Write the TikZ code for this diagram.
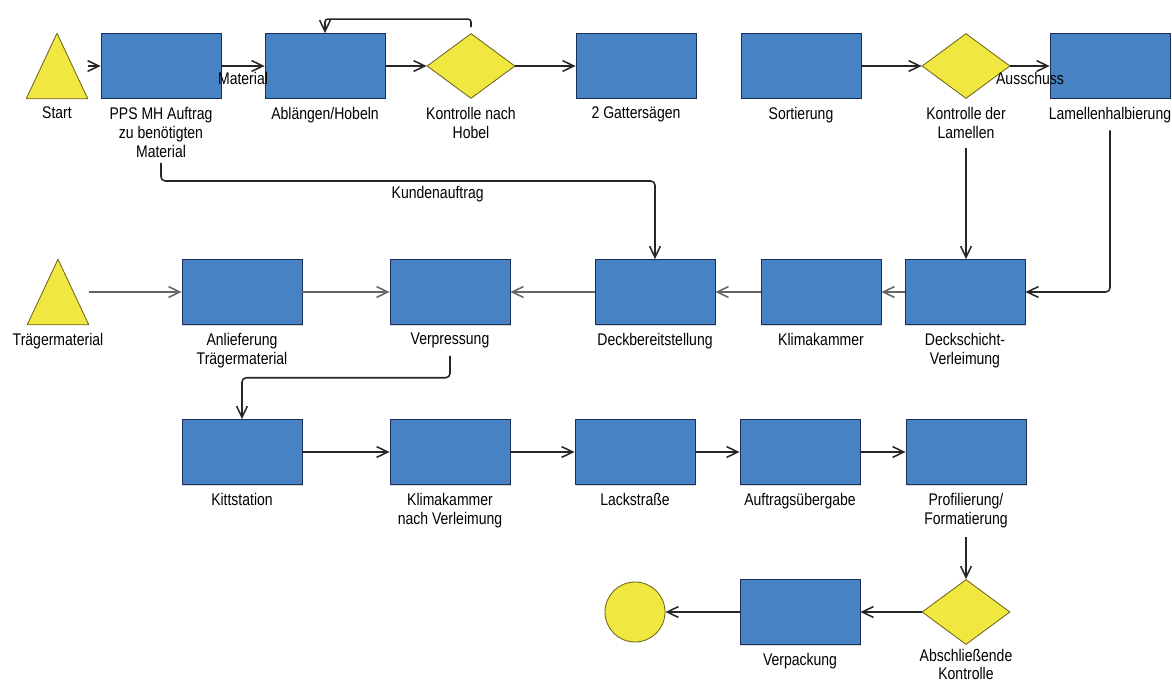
\documentclass[tikz,border=0pt]{standalone}
\usepackage{fontspec}
\setmainfont{Liberation Sans}[FakeStretch=0.83]
\usetikzlibrary{
  shapes.geometric
  , calc
  , arrows.meta
  , shadows
}
\definecolor{boxblue}{RGB}{70,130,196}
\definecolor{boxline}{RGB}{25,45,85}
\definecolor{evyellow}{RGB}{240,232,64}
\definecolor{evline}{RGB}{110,100,30}
\tikzset{
  procbox/.style={rectangle, draw=boxline, line width=0.6pt, fill=boxblue,
    minimum width=3cm, minimum height=1.625cm, inner sep=0pt,
    drop shadow={shadow xshift=0.7pt, shadow yshift=-0.7pt, fill=black!30}},
  decision/.style={diamond, draw=evline, line width=0.6pt, fill=evyellow,
    minimum width=2.2cm, minimum height=1.625cm, inner sep=0pt},
  % frame of a triangle event, the triangle is drawn inside it
  startevent/.style={rectangle, minimum width=1.525cm, minimum height=1.625cm, inner sep=0pt},
  triangle/.style={draw=evline, line width=0.6pt, fill=evyellow, line join=round},
  endevent/.style={circle, draw=evline, line width=0.6pt, fill=evyellow,
    minimum size=1.5cm, inner sep=0pt},
  every label/.style={align=center, font=\fontsize{12}{13.5}\selectfont, inner sep=1pt},
  flowtext/.style={font=\fontsize{12}{13.5}\selectfont, inner sep=1pt},
  arr/.style={-{Straight Barb[length=2.8mm, width=2.7mm]}, line width=1.1pt, draw=black!85}
}
\begin{document}
\begin{tikzpicture}[x=0.025cm, y=-0.025cm, label distance=4.5pt]
  \useasboundingbox (0,0) rectangle (1172,686);

  % first row
  \node [startevent, label={[name=startLbl]below:Start}] (start) at (57,66) {};
  \draw [triangle] (start.north) -- (start.south east) -- (start.south west) -- cycle;
  \node [procbox, label={[name=ppsLbl]below:{PPS MH Auftrag\\zu benötigten\\Material}}] (pps) at (161,66) {};
  \node [procbox, label={[name=ablLbl]below:Ablängen/Hobeln}] (ablaengen) at (325,66) {};
  \node [decision, label={[name=khLbl]below:{Kontrolle nach\\Hobel}}] (kontrHobel) at (471,66) {};
  \node [procbox, label={[name=gatLbl]below:2 Gattersägen}] (gatter) at (636,66) {};
  \node [procbox, label={[name=sortLbl]below:Sortierung}] (sortierung) at (801,66) {};
  \node [decision, label={[name=klLbl]below:{Kontrolle der\\Lamellen}}] (kontrLam) at (966,66) {};
  \node [procbox, label={[name=halbLbl]below:Lamellenhalbierung}] (halbierung) at (1110,66) {};

  % second row
  \node [startevent, label={[name=traegerLbl]below:Trägermaterial}] (traeger) at (58,292) {};
  \draw [triangle] (traeger.north) -- (traeger.south east) -- (traeger.south west) -- cycle;
  \node [procbox, label={[name=anlLbl]below:{Anlieferung\\Trägermaterial}}] (anlieferung) at (242,292) {};
  \node [procbox, label={[name=verpLbl]below:Verpressung}] (verpressung) at (450,292) {};
  \node [procbox, label={[name=dbLbl]below:Deckbereitstellung}] (deckbereit) at (655,292) {};
  \node [procbox, label={[name=klimaLbl]below:Klimakammer}] (klima) at (821,292) {};
  \node [procbox, label={[name=dsLbl]below:{Deckschicht-\\Verleimung}}] (deckschicht) at (965,292) {};

  % third row
  \node [procbox, label={[name=kittLbl]below:Kittstation}] (kitt) at (242,452) {};
  \node [procbox, label={[name=knLbl]below:{Klimakammer\\nach Verleimung}}] (klimaNach) at (450,452) {};
  \node [procbox, label={[name=lackLbl]below:Lackstraße}] (lack) at (635,452) {};
  \node [procbox, label={[name=ueLbl]below:Auftragsübergabe}] (uebergabe) at (800,452) {};
  \node [procbox, label={[name=profLbl]below:{Profilierung/\\Formatierung}}] (profil) at (966,452) {};

  % last row
  \node [endevent] (ende) at (635,612) {};
  \node [procbox, label={[name=vpLbl]below:Verpackung}] (verpackung) at (800,612) {};
  \node [decision, label={[name=keLbl, label distance=2pt, font=\fontsize{12}{12.5}\selectfont]below:{Abschließende\\Kontrolle}}] (kontrEnd) at (966,612) {};

  % connectors
  \draw [arr] (start) -- (pps);
  \draw [arr] (pps) -- node[flowtext, below=3pt]{Material} (ablaengen);
  \draw [arr] (ablaengen) -- (kontrHobel);
  \draw [arr, rounded corners=2pt] (kontrHobel.north) ++(0,-6) -- ++(0,-8) -| (ablaengen.north);
  \draw [arr] (kontrHobel) -- (gatter);
  \draw [arr] (sortierung) -- (kontrLam);
  \draw [arr] (kontrLam) -- node[flowtext, below=3pt]{Ausschuss} (halbierung);
  \draw [arr] (kontrLam.south |- klLbl.south) ++(0,8) -- (kontrLam.south |- deckschicht.north);
  \draw [arr, rounded corners=3pt] (halbierung.south |- halbLbl.south) ++(0,6) |- (deckschicht.east);
  \draw [arr, rounded corners=3pt] (ppsLbl.south) ++(0,4) -- ++(0,18)
    -| node[flowtext, below=2pt, pos=0.28]{Kundenauftrag} (deckbereit.north);

  \draw [arr, draw=black!60] (traeger) -- (anlieferung);
  \draw [arr, draw=black!60] (anlieferung) -- (verpressung);
  \draw [arr, draw=black!60] (deckbereit) -- (verpressung);
  \draw [arr, draw=black!60] (klima) -- (deckbereit);
  \draw [arr, draw=black!60] (deckschicht) -- (klima);
  \draw [arr, rounded corners=3pt] (verpressung.south |- verpLbl.south) ++(0,6) -- ++(0,22) -| (kitt.north);

  \draw [arr] (kitt) -- (klimaNach);
  \draw [arr] (klimaNach) -- (lack);
  \draw [arr] (lack) -- (uebergabe);
  \draw [arr] (uebergabe) -- (profil);
  \draw [arr] (profil.south |- profLbl.south) ++(0,8) -- (profil.south |- kontrEnd.north);

  \draw [arr] (kontrEnd) -- (verpackung);
  \draw [arr] (verpackung) -- (ende);
\end{tikzpicture}
\end{document}
